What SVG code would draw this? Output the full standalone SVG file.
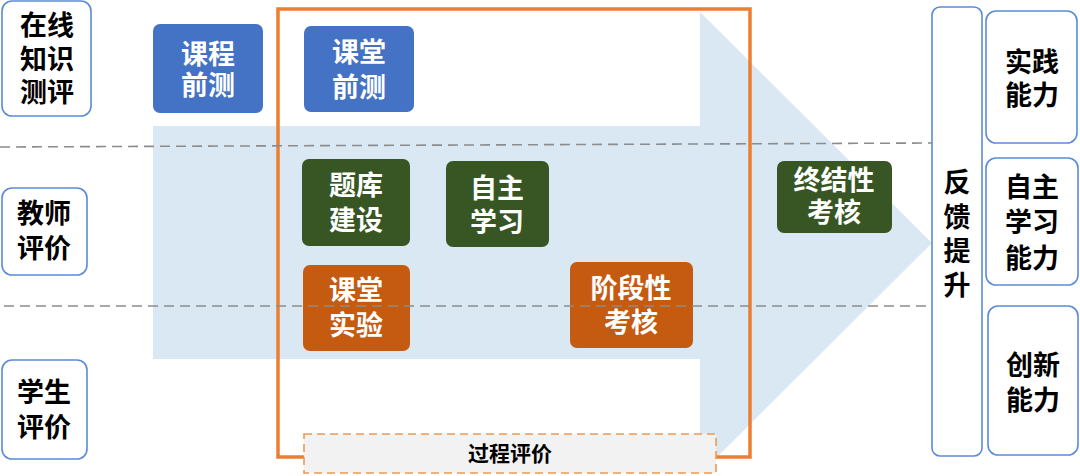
<svg xmlns="http://www.w3.org/2000/svg" width="1080" height="476" viewBox="0 0 1080 476">
<style>
text{font-family:"Liberation Sans","Noto Sans CJK SC",sans-serif;font-weight:700;text-anchor:middle}
.w{fill:#fff;font-size:27px}
.k{fill:#000;font-size:27px}
.out{fill:#fff;stroke:#5B8AD6;stroke-width:1.6}
.blue{fill:#4472C4}
.green{fill:#375623}
.orange{fill:#C55A11}
.dash{stroke:#8C8C8C;stroke-width:1.6;stroke-dasharray:10 6;fill:none}
</style>
<rect width="1080" height="476" fill="#fff"/>
<g id="arrow">
<polygon points="153,126 700,126 700,12 932,243 700,474 700,359 153,359" fill="#DAE8F4"/>
</g>
<g id="process-frame">
<rect x="278" y="9" width="472" height="448" fill="none" stroke="#ED7D31" stroke-width="3.5"/>
</g>
<g id="n-online"><rect class="out" x="2" y="1" width="89" height="115" rx="10"/>
<text class="k" x="47" y="35"><tspan x="47">在线</tspan><tspan x="47" dy="34">知识</tspan><tspan x="47" dy="33">测评</tspan></text></g>
<g id="n-teacher"><rect class="out" x="2" y="188" width="85" height="87" rx="10"/>
<text class="k" x="44" y="223"><tspan x="44">教师</tspan><tspan x="44" dy="35">评价</tspan></text></g>
<g id="n-student"><rect class="out" x="2" y="360" width="85" height="99" rx="10"/>
<text class="k" x="44" y="402"><tspan x="44">学生</tspan><tspan x="44" dy="35">评价</tspan></text></g>
<g id="n-course-pre"><rect class="blue" x="153" y="24" width="110" height="89" rx="7"/>
<text class="w" x="208" y="64"><tspan x="208">课程</tspan><tspan x="208" dy="31">前测</tspan></text></g>
<g id="n-class-pre"><rect class="blue" x="304" y="26" width="110" height="86" rx="7"/>
<text class="w" x="359" y="62"><tspan x="359">课堂</tspan><tspan x="359" dy="35">前测</tspan></text></g>
<g id="n-bank"><rect class="green" x="302" y="159" width="108" height="87" rx="7"/>
<text class="w" x="356" y="195"><tspan x="356">题库</tspan><tspan x="356" dy="35">建设</tspan></text></g>
<g id="n-self"><rect class="green" x="446" y="161" width="103" height="86" rx="7"/>
<text class="w" x="497" y="198"><tspan x="497">自主</tspan><tspan x="497" dy="34">学习</tspan></text></g>
<g id="n-lab"><rect class="orange" x="303" y="265" width="107" height="86" rx="7"/>
<text class="w" x="356" y="300"><tspan x="356">课堂</tspan><tspan x="356" dy="35">实验</tspan></text></g>
<g id="n-stage"><rect class="orange" x="570" y="262" width="123" height="86" rx="7"/>
<text class="w" x="631" y="298"><tspan x="631">阶段性</tspan><tspan x="631" dy="34">考核</tspan></text></g>
<g id="n-final"><rect class="green" x="777" y="161" width="115" height="72" rx="7"/>
<text class="w" x="834" y="190"><tspan x="834">终结性</tspan><tspan x="834" dy="32">考核</tspan></text></g>
<g id="n-feedback"><rect class="out" x="932" y="7" width="50" height="449" rx="8"/>
<text class="k" x="957" y="192"><tspan x="957">反</tspan><tspan x="957" dy="35">馈</tspan><tspan x="957" dy="34">提</tspan><tspan x="957" dy="34">升</tspan></text></g>
<g id="n-practice"><rect class="out" x="986" y="11" width="91" height="132" rx="10"/>
<text class="k" x="1032" y="72"><tspan x="1032">实践</tspan><tspan x="1032" dy="33">能力</tspan></text></g>
<g id="n-selfability"><rect class="out" x="986" y="158" width="92" height="127" rx="10"/>
<text class="k" x="1032" y="197"><tspan x="1032">自主</tspan><tspan x="1032" dy="35">学习</tspan><tspan x="1032" dy="36">能力</tspan></text></g>
<g id="n-innovation"><rect class="out" x="988" y="306" width="90" height="149" rx="10"/>
<text class="k" x="1033" y="375"><tspan x="1033">创新</tspan><tspan x="1033" dy="35">能力</tspan></text></g>
<g id="connectors">
<line class="dash" x1="0" y1="147" x2="932" y2="143"/>
<line class="dash" x1="4" y1="306" x2="932" y2="306"/>
</g>
<g id="n-process-label"><rect x="304" y="434" width="412" height="39" fill="#F2F2F2" stroke="#F09850" stroke-width="1.6" stroke-dasharray="8 5"/>
<text x="510" y="461" style="font-size:21px;fill:#000">过程评价</text></g>
</svg>
